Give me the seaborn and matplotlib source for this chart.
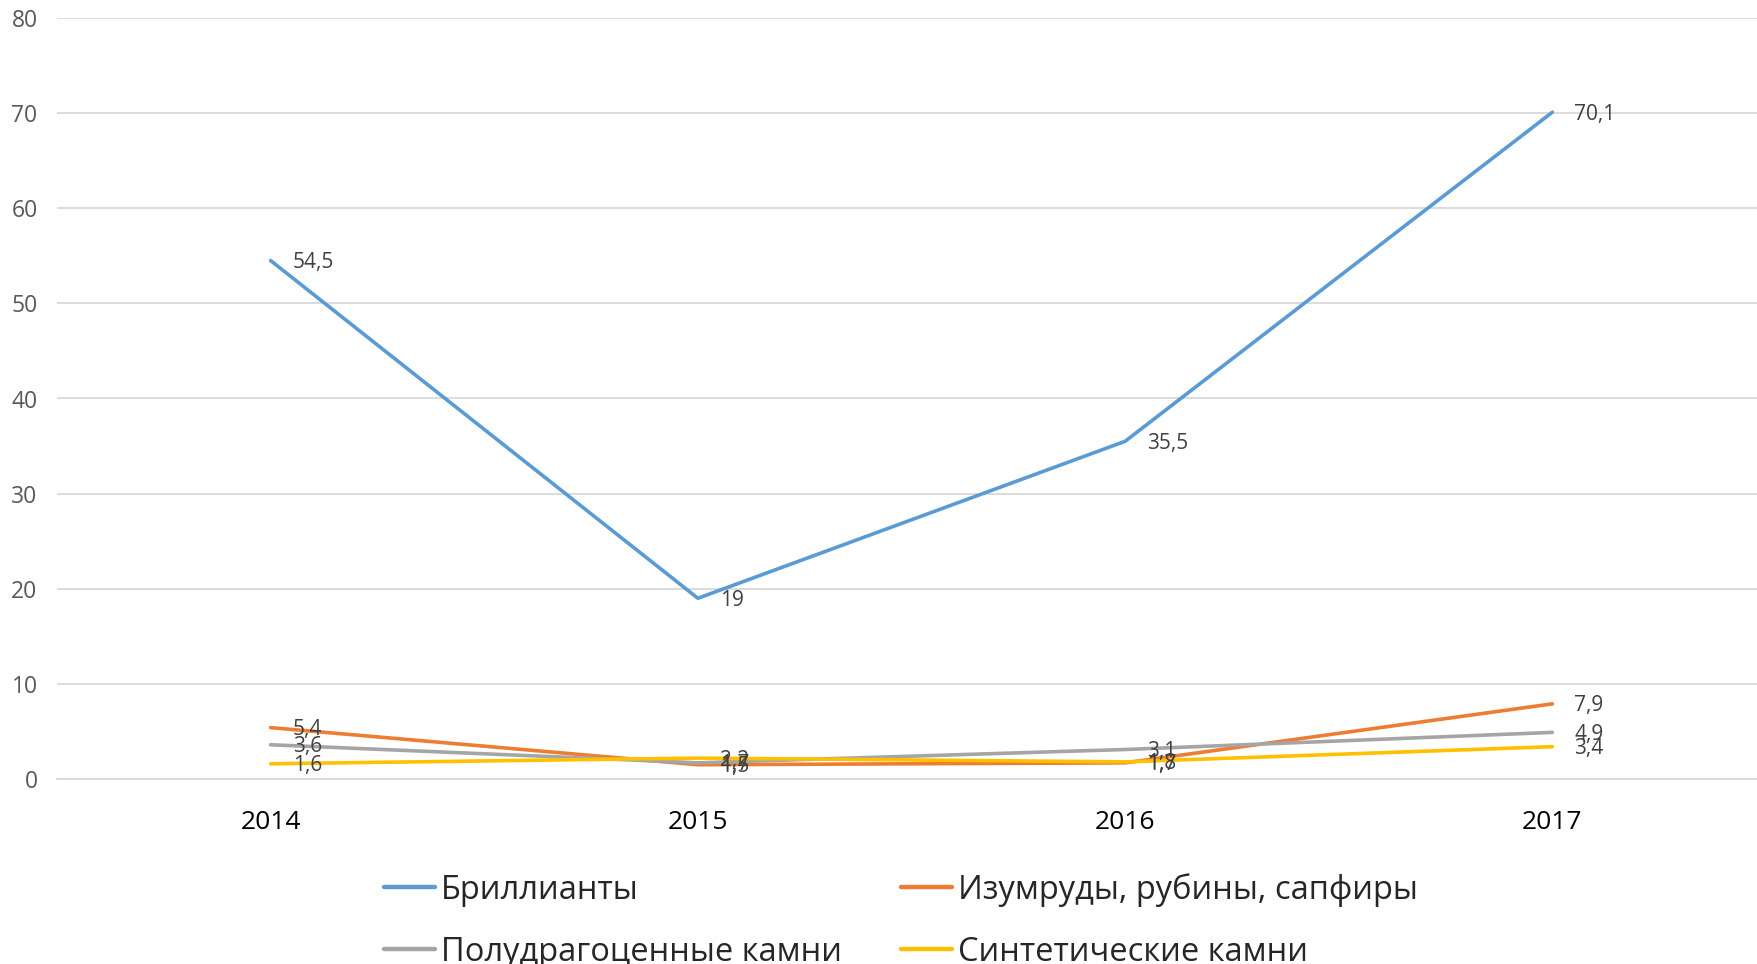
import matplotlib
matplotlib.use("Agg")
import matplotlib.pyplot as plt
import seaborn as sns
import pandas as pd
from matplotlib import font_manager as fm
from matplotlib.lines import Line2D

years = ["2014", "2015", "2016", "2017"]
series_names = ["Бриллианты", "Изумруды, рубины, сапфиры", "Полудрагоценные камни", "Синтетические камни"]
brilliants = [54.5, 19, 35.5, 70.1]
emeralds = [5.4, 1.5, 1.7, 7.9]
semiprecious = [3.6, 1.7, 3.1, 4.9]
synthetic = [1.6, 2.2, 1.8, 3.4]
colors = ["#5B9BD5", "#ED7D31", "#A5A5A5", "#FFC000"]
yticks = [0, 10, 20, 30, 40, 50, 60, 70, 80]

sns.set_theme(style="white")
avail = {f.name for f in fm.fontManager.ttflist}
base_font = "Open Sans" if "Open Sans" in avail else "DejaVu Sans"
plt.rcParams["font.family"] = [base_font, "DejaVu Sans"]

values = [brilliants, emeralds, semiprecious, synthetic]
rows = []
for name, vals in zip(series_names, values):
    for i, (yr, v) in enumerate(zip(years, vals)):
        rows.append({"pos": i, "year": yr, "value": v, "series": name})
df = pd.DataFrame(rows)

fig = plt.figure(figsize=(17.58, 9.64), dpi=100)
ax = fig.add_axes([57 / 1758, 1 - 779 / 964, (1766 - 57) / 1758, (779 - 18) / 964])

sns.lineplot(data=df, x="pos", y="value", hue="series", hue_order=series_names,
             palette=colors, linewidth=2.6, ax=ax, sort=False, legend=False)

for name, vals in zip(series_names, values):
    for i, v in enumerate(vals):
        ax.annotate(f"{v:g}".replace(".", ","), (i, v), xytext=(22, -2),
                    textcoords="offset pixels", ha="left", va="center",
                    fontsize=15, color="#404040")

ax.set_xlim(-0.5, 3.5)
ax.set_ylim(0, 80)
ax.set_yticks(yticks)
ax.set_yticklabels([str(t) for t in yticks])
ax.set_xticks(range(len(years)))
ax.set_xticklabels(years)
ax.set_xlabel("")
ax.set_ylabel("")
ax.grid(axis="y", color="#D9D9D9", linewidth=1.3)
ax.set_axisbelow(True)
for s in ["top", "right", "left"]:
    ax.spines[s].set_visible(False)
ax.spines["bottom"].set_color("#D9D9D9")
ax.spines["bottom"].set_linewidth(1.3)
ax.tick_params(axis="y", length=0, pad=14, labelsize=16.5, labelcolor="#595959")
ax.tick_params(axis="x", length=0, pad=22, labelsize=19, labelcolor="#000000")

handles = [Line2D([], [], color=c, linewidth=3.2) for c in colors]
order = [0, 2, 1, 3]
leg = fig.legend([handles[i] for i in order], [series_names[i] for i in order],
                 ncol=2, loc="upper left", bbox_to_anchor=(371 / 1758, 1 - 860 / 964),
                 frameon=False, prop={"size": 23.5},
                 handlelength=1.55, handletextpad=0.2, columnspacing=1.8,
                 labelspacing=0.88, borderaxespad=0)

fig.savefig("out.png", dpi=100)
